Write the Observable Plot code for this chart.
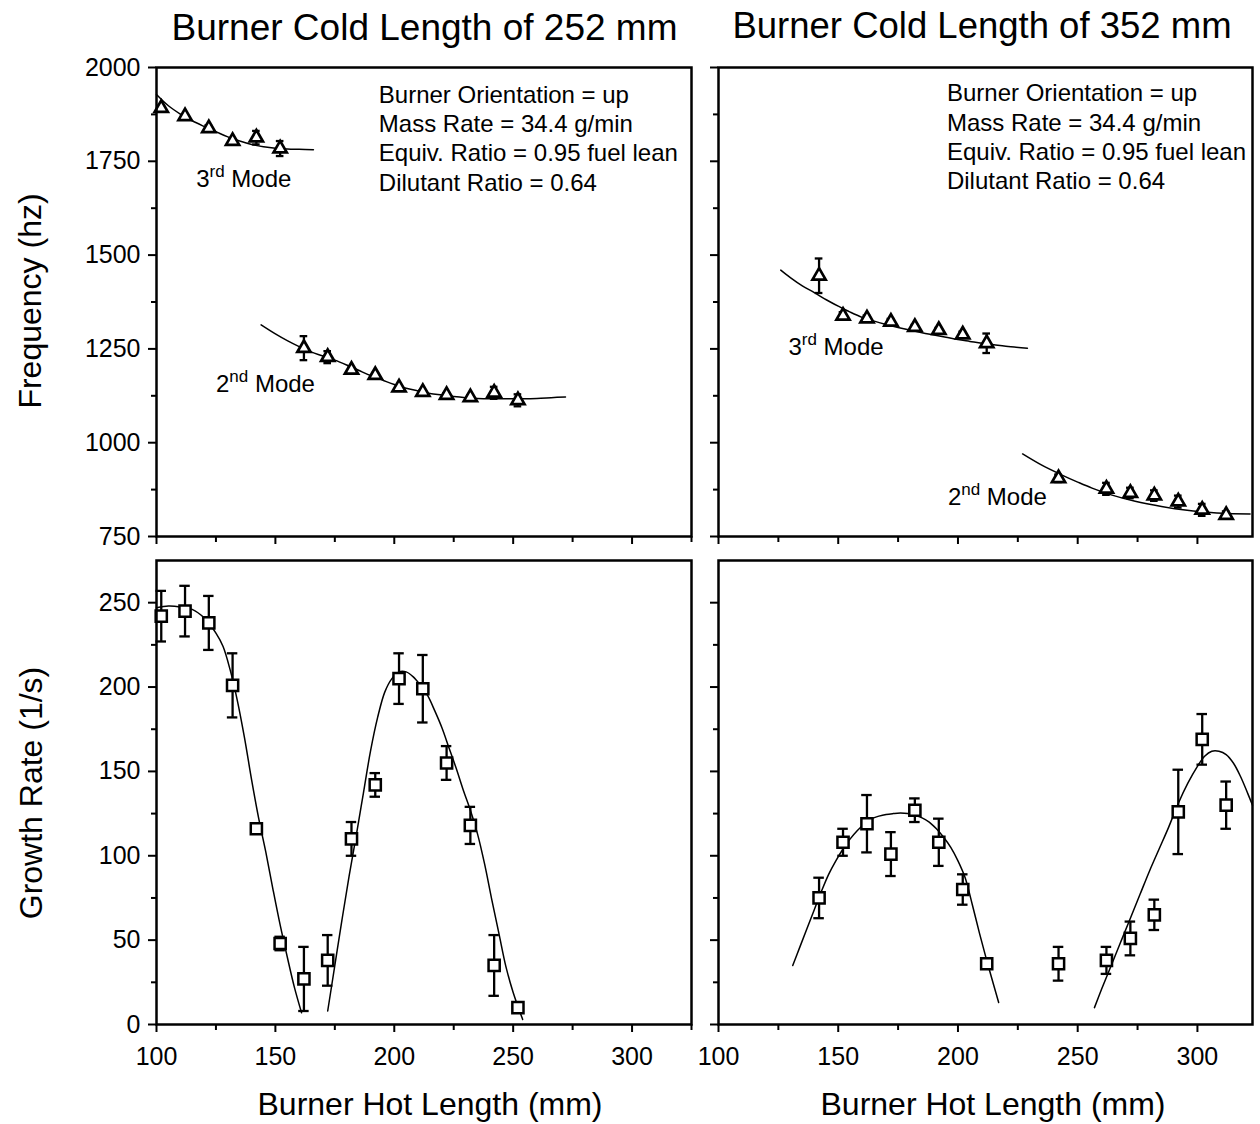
<!DOCTYPE html>
<html>
<head>
<meta charset="utf-8">
<script src="https://cdn.jsdelivr.net/npm/d3@7"></script>
<script src="https://cdn.jsdelivr.net/npm/@observablehq/plot@0.6"></script>
<style>
  body { margin: 0; background: #fff; }
  #root { position: relative; width: 1260px; height: 1124px; font-family: "Liberation Sans", Arial, Helvetica, sans-serif; color: #000; overflow: hidden; }
  .lbl { position: absolute; white-space: nowrap; line-height: 1; transform: translate(-50%, -50%); }
  .rot { transform: translate(-50%, -50%) rotate(-90deg); }
  .pnl { position: absolute; }
</style>
</head>
<body>
<div id="root"></div>
<script>
// ---------------- DATA ----------------
// Cold length 252 mm: frequency (Hz)
const hot3L = [102, 112, 122, 132, 142, 152];
const freq3L = [1892, 1870, 1838, 1804, 1813, 1784];
const err3L = [6, 5, 8, 6, 18, 20];
const hot2L = [162, 172, 182, 192, 202, 212, 222, 232, 242, 252];
const freq2L = [1252, 1228, 1194, 1180, 1147, 1135, 1127, 1121, 1133, 1113];
const err2L = [32, 16, 6, 6, 6, 5, 5, 5, 16, 16];
// fitted curves
const fit3Lx = [100, 105, 110, 115, 120, 125, 130, 135, 140, 145, 150, 155, 160, 166];
const fit3Ly = [1928, 1898, 1876, 1858, 1843, 1829, 1815, 1804, 1795, 1789, 1785, 1783, 1782, 1781];
const fit2Lx = [144, 150, 155, 160, 165, 170, 175, 180, 185, 190, 195, 200, 205, 210, 215, 220, 225, 230, 235, 240, 245, 250, 255, 260, 266, 272];
const fit2Ly = [1314, 1290, 1272, 1256, 1242, 1231, 1220, 1207, 1193, 1179, 1167, 1155, 1145, 1138, 1131, 1127, 1123, 1120, 1118, 1117, 1117, 1117, 1117, 1118, 1120, 1122];

// Cold length 352 mm: frequency (Hz)
const hot3R = [142, 152, 162, 172, 182, 192, 202, 212];
const freq3R = [1445, 1338, 1331, 1322, 1308, 1300, 1288, 1265];
const err3R = [46, 10, 8, 8, 6, 6, 8, 26];
const hot2R = [242, 262, 272, 282, 292, 302, 312];
const freq2R = [905, 877, 866, 859, 843, 821, 807];
const err2R = [10, 16, 14, 14, 16, 16, 10];
const fit3Rx = [126, 130, 135, 140, 145, 150, 155, 160, 165, 170, 175, 180, 185, 190, 195, 200, 205, 210, 215, 220, 229];
const fit3Ry = [1460, 1440, 1418, 1400, 1381, 1364, 1348, 1334, 1324, 1315, 1307, 1300, 1293, 1287, 1281, 1275, 1270, 1265, 1261, 1257, 1252];
const fit2Rx = [227, 235, 243, 250, 256, 264, 274, 285, 294, 303, 313, 322];
const fit2Ry = [970, 940, 915, 895, 879, 861, 844, 830, 821, 815, 811, 810];

// Growth rate (1/s)
const hotGL = [102, 112, 122, 132, 142, 152, 162, 172, 182, 192, 202, 212, 222, 232, 242, 252];
const growthL = [242, 245, 238, 201, 116, 48, 27, 38, 110, 142, 205, 199, 155, 118, 35, 10];
const errGL = [15, 15, 16, 19, 3, 4, 19, 15, 10, 7, 15, 20, 10, 11, 18, 2];
const fitGL1x = [100, 105, 110, 115, 120, 125, 128, 131, 134, 137, 140, 143, 146, 149, 152, 155, 158, 161];
const fitGL1y = [247, 248, 247.5, 246, 241, 232, 224, 210, 192, 170, 145, 122, 102, 80, 59, 40, 22, 7];
const fitGL2x = [172, 175, 178, 181, 184, 187, 190, 193, 196, 199, 202, 205, 208, 211, 214, 217, 220, 223, 226, 229, 232, 235, 238, 241, 244, 247, 250, 254];
const fitGL2y = [8, 35, 62, 88, 112, 137, 162, 182, 197, 205, 209, 209, 206, 201, 195, 186, 176, 164, 152, 139, 127, 113, 95, 74, 54, 34, 19, 3];

const hotGR = [142, 152, 162, 172, 182, 192, 202, 212, 242, 262, 272, 282, 292, 302, 312];
const growthR = [75, 108, 119, 101, 127, 108, 80, 36, 36, 38, 51, 65, 126, 169, 130];
const errGR = [12, 8, 17, 13, 7, 14, 9, 3, 10, 8, 10, 9, 25, 15, 14];
const fitGR1x = [131, 134, 137, 140, 143, 146, 149, 152, 155, 158, 161, 164, 167, 170, 173, 176, 179, 182, 185, 188, 191, 194, 197, 200, 203, 206, 209, 212, 215, 217];
const fitGR1y = [35, 46, 57, 68, 79, 89, 97, 104, 110, 115, 119, 122, 123.5, 124.5, 125, 125.3, 125, 124, 122.5, 120, 116, 111, 105, 97, 87, 71, 54, 38, 23, 13];
const fitGR2x = [257, 260, 264, 268, 272, 276, 280, 284, 288, 292, 296, 300, 303, 306, 309, 312, 315, 318, 321, 323];
const fitGR2y = [10, 21, 35, 49, 63, 77, 91, 104, 117, 131, 143, 153, 159, 162, 162, 160, 155, 147, 137, 130];

// Ticks
const freqTicks = [750, 1000, 1250, 1500, 1750, 2000];
const freqMinor = [875, 1125, 1375, 1625, 1875];
const growthTicks = [0, 50, 100, 150, 200, 250];
const growthMinor = [25, 75, 125, 175, 225];
const hotTicks = [100, 150, 200, 250, 300];
const hotMinorL = [125, 175, 225, 275, 325];
const hotMinorR = [125, 175, 225, 275];

// Texts
const titles = ["Burner Cold Length of 252 mm", "Burner Cold Length of 352 mm"];
const conditions = ["Burner Orientation = up", "Mass Rate = 34.4 g/min", "Equiv. Ratio = 0.95 fuel lean", "Dilutant Ratio = 0.64"];
const modeNames = ["3rd Mode", "2nd Mode"];
const xLabel = "Burner Hot Length (mm)";
const yLabelFreq = "Frequency (hz)";
const yLabelGrowth = "Growth Rate (1/s)";

// ---------------- HELPERS ----------------
const FONT = '"Liberation Sans", Arial, Helvetica, sans-serif';
const zipPts = (xs, ys, es) => xs.map((x, i) => ({x, y: ys[i], e: es ? es[i] : 0}));
const zipLine = (xs, ys) => xs.map((x, i) => ({x, y: ys[i]}));

function pointMarks(pts, symbol, r, capHalf, sw) {
  return [
    Plot.ruleX(pts, {x: "x", y1: d => d.y - d.e, y2: d => d.y + d.e, stroke: "black", strokeWidth: 2.3}),
    Plot.ruleY(pts, {y: d => d.y + d.e, x1: d => d.x - capHalf, x2: d => d.x + capHalf, stroke: "black", strokeWidth: 2.3}),
    Plot.ruleY(pts, {y: d => d.y - d.e, x1: d => d.x - capHalf, x2: d => d.x + capHalf, stroke: "black", strokeWidth: 2.3}),
    Plot.dot(pts, {x: "x", y: "y", symbol, r, fill: "white", stroke: "black", strokeWidth: sw})
  ];
}
function fitMark(line) {
  return Plot.line(line, {x: "x", y: "y", stroke: "black", strokeWidth: 1.5, curve: "catmull-rom"});
}

function supify(svg) {
  d3.select(svg).selectAll("text").each(function () {
    if (this.children.length) return;
    const m = this.textContent.match(/^(\d)(rd|nd) (Mode)$/);
    if (!m) return;
    const t = d3.select(this);
    t.text(null);
    t.append("tspan").text(m[1]);
    t.append("tspan").attr("font-size", "17px").attr("dy", "-10").text(m[2]);
    t.append("tspan").attr("dy", "10").text(" " + m[3]);
  });
}

function panel({left, top, width, height, mt, mr, mb, ml, xDomain, yDomain, yMajor, yMinor, xMinor, yLabels, xLabels, marks}) {
  const svg = Plot.plot({
    width, height,
    marginTop: mt, marginRight: mr, marginBottom: mb, marginLeft: ml,
    x: {domain: xDomain},
    y: {domain: yDomain},
    style: {fontFamily: FONT, fontSize: "25px", color: "black", background: "transparent", overflow: "visible"},
    marks: [
      Plot.axisY({ticks: yMajor, tickSize: 8, tickPadding: 8, strokeWidth: 2, tickFormat: yLabels ? "d" : () => "", label: null}),
      Plot.axisY({ticks: yMinor, tickSize: 5, strokeWidth: 2, tickFormat: () => "", label: null}),
      Plot.axisX({ticks: hotTicks, tickSize: 8, tickPadding: 15, strokeWidth: 2, tickFormat: xLabels ? "d" : () => "", label: null}),
      Plot.axisX({ticks: xMinor, tickSize: 6, strokeWidth: 2, tickFormat: () => "", label: null}),
      ...marks,
      Plot.frame({stroke: "black", strokeWidth: 2.5})
    ]
  });
  supify(svg);
  const wrap = document.createElement("div");
  wrap.className = "pnl";
  wrap.style.left = left + "px";
  wrap.style.top = top + "px";
  wrap.style.width = width + "px";
  wrap.style.height = height + "px";
  wrap.appendChild(svg);
  root.appendChild(wrap);
}

const root = document.getElementById("root");
function addLabel(text, cx, cy, size, rotate) {
  const d = document.createElement("div");
  d.className = "lbl" + (rotate ? " rot" : "");
  d.style.left = cx + "px";
  d.style.top = cy + "px";
  d.style.fontSize = size + "px";
  d.textContent = text;
  root.appendChild(d);
}

const condText = conditions.join("\n");
const textStyle = {textAnchor: "start", lineAnchor: "top", fontSize: 24, lineHeight: 1.22, fill: "black"};
const modeStyle = {textAnchor: "start", lineAnchor: "middle", fontSize: 24, fill: "black"};

// ---------------- PANELS ----------------
// Top-left: frequency, cold 252 mm
panel({
  left: 0, top: 50, width: 705, height: 500, mt: 17, mr: 14, mb: 14, ml: 156,
  xDomain: [100, 325], yDomain: [750, 2000], yMajor: freqTicks, yMinor: freqMinor, xMinor: hotMinorL,
  yLabels: true, xLabels: false,
  marks: [
    fitMark(zipLine(fit3Lx, fit3Ly)),
    fitMark(zipLine(fit2Lx, fit2Ly)),
    ...pointMarks(zipPts(hot3L, freq3L, err3L), "triangle", 4.9, 1.6, 2.7),
    ...pointMarks(zipPts(hot2L, freq2L, err2L), "triangle", 4.9, 1.6, 2.7),
    Plot.text([condText], {x: () => 193.5, y: () => 1961, text: d => d, ...textStyle}),
    Plot.text([modeNames[0]], {x: () => 116.7, y: () => 1701, text: d => d, ...modeStyle}),
    Plot.text([modeNames[1]], {x: () => 125, y: () => 1155, text: d => d, ...modeStyle})
  ]
});

// Top-right: frequency, cold 352 mm
panel({
  left: 705, top: 50, width: 555, height: 500, mt: 17, mr: 8, mb: 14, ml: 13,
  xDomain: [100, 323], yDomain: [750, 2000], yMajor: freqTicks, yMinor: freqMinor, xMinor: hotMinorR,
  yLabels: false, xLabels: false,
  marks: [
    fitMark(zipLine(fit3Rx, fit3Ry)),
    fitMark(zipLine(fit2Rx, fit2Ry)),
    ...pointMarks(zipPts(hot3R, freq3R, err3R), "triangle", 4.9, 1.6, 2.7),
    ...pointMarks(zipPts(hot2R, freq2R, err2R), "triangle", 4.9, 1.6, 2.7),
    Plot.text([condText], {x: () => 195.4, y: () => 1965, text: d => d, ...textStyle}),
    Plot.text([modeNames[0]], {x: () => 129.2, y: () => 1254, text: d => d, ...modeStyle}),
    Plot.text([modeNames[1]], {x: () => 195.8, y: () => 855, text: d => d, ...modeStyle})
  ]
});

// Bottom-left: growth rate, cold 252 mm
panel({
  left: 0, top: 550, width: 705, height: 574, mt: 10, mr: 14, mb: 100, ml: 156,
  xDomain: [100, 325], yDomain: [0, 275], yMajor: growthTicks, yMinor: growthMinor, xMinor: hotMinorL,
  yLabels: true, xLabels: true,
  marks: [
    fitMark(zipLine(fitGL1x, fitGL1y)),
    fitMark(zipLine(fitGL2x, fitGL2y)),
    ...pointMarks(zipPts(hotGL, growthL, errGL), "square", 6.3, 2.2, 2.5)
  ]
});

// Bottom-right: growth rate, cold 352 mm
panel({
  left: 705, top: 550, width: 555, height: 574, mt: 10, mr: 8, mb: 100, ml: 13,
  xDomain: [100, 323], yDomain: [0, 275], yMajor: growthTicks, yMinor: growthMinor, xMinor: hotMinorR,
  yLabels: false, xLabels: true,
  marks: [
    fitMark(zipLine(fitGR1x, fitGR1y)),
    fitMark(zipLine(fitGR2x, fitGR2y)),
    ...pointMarks(zipPts(hotGR, growthR, errGR), "square", 6.3, 2.2, 2.5)
  ]
});

// ---------------- LABELS ----------------
addLabel(titles[0], 424.5, 27, 37, false);
addLabel(titles[1], 982, 26, 36.5, false);
addLabel(yLabelFreq, 30, 301, 32, true);
addLabel(yLabelGrowth, 31, 793, 32, true);
addLabel(xLabel, 430, 1104, 32, false);
addLabel(xLabel, 993, 1104, 32, false);
</script>
</body>
</html>
